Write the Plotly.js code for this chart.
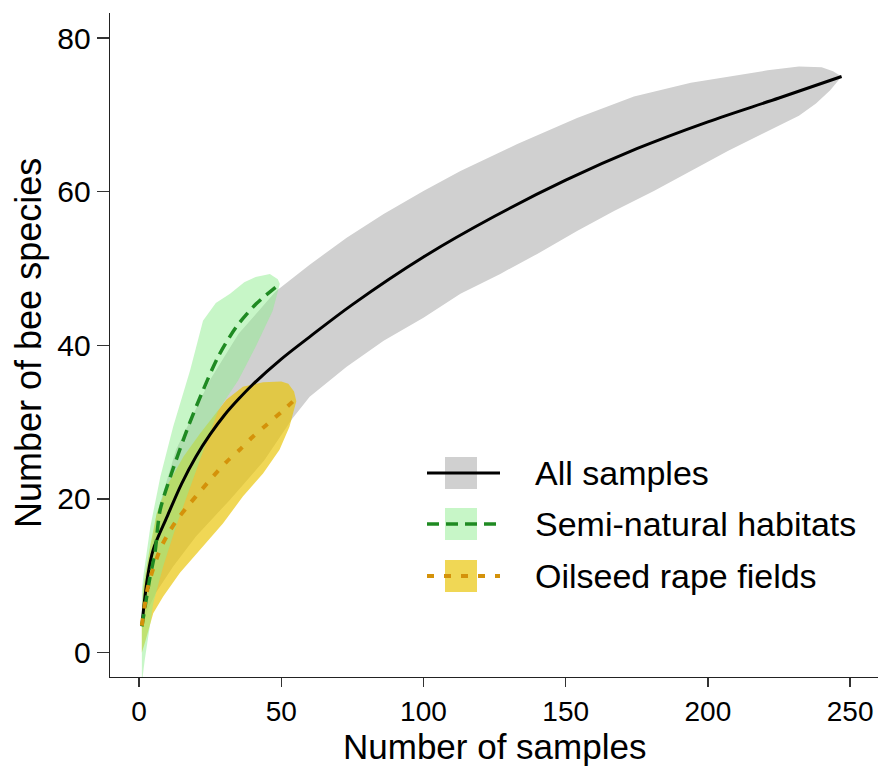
<!DOCTYPE html>
<html>
<head>
<meta charset="utf-8">
<script src="https://cdn.plot.ly/plotly-3.0.1.min.js"></script>
<style>html,body{margin:0;padding:0;background:#fff;}</style>
</head>
<body>
<div id="chart" style="width:878px;height:767px;"></div>
<script>
// ---- data ----
const seriesNames = ["All samples", "Semi-natural habitats", "Oilseed rape fields"];
const xTitle = "Number of samples";
const yTitle = "Number of bee species";

// All samples: mean curve and envelope
const allX = [1, 3, 5, 10, 15, 20, 25, 30, 35, 40, 50, 60, 75, 100, 125, 150, 175, 200, 225, 247];
const allY = [3.5, 9.8, 13.4, 17.8, 22.0, 25.5, 28.4, 30.9, 33.0, 34.9, 38.2, 41.1, 45.3, 51.5, 56.8, 61.5, 65.6, 69.1, 72.2, 75.0];
const allUpX = [1, 3, 6, 13, 25, 35, 48, 60, 73, 86, 100, 113, 133, 154, 174, 194, 210, 221, 232, 240, 244, 247];
const allUpY = [3.6, 9, 17.7, 26.4, 35.5, 41.5, 47, 50.5, 54, 57.1, 60.1, 62.7, 66.2, 69.6, 72.4, 74.2, 75.2, 75.8, 76.3, 76.2, 75.7, 75];
const allLoX = [1, 3, 6, 12, 20, 32, 44, 54, 60, 73, 86, 100, 113, 127, 140, 154, 167, 181, 194, 207, 221, 232, 238, 243, 247];
const allLoY = [3.4, 5.5, 7.8, 11.2, 15.1, 19.9, 25, 30.5, 33.3, 37.2, 40.6, 43.6, 46.7, 49.3, 51.9, 54.9, 57.5, 60.1, 62.7, 65.3, 67.9, 69.9, 71.5, 73.2, 75];

// Semi-natural habitats
const semiX = [1, 3.9, 5.6, 7.4, 11.4, 17.3, 22, 27.8, 34.2, 41.2, 49.5];
const semiY = [3.4, 9.9, 13, 18.5, 23.3, 29.4, 33.7, 38.5, 42.4, 45.4, 48];
const semiUpX = [1, 1.5, 4, 7.5, 12, 18, 22.5, 27, 32, 37, 41, 46, 48.8, 49.5];
const semiUpY = [8, 9.9, 16.4, 22.9, 29.4, 36.8, 43.2, 45.5, 46.7, 48.2, 48.9, 49.3, 48.6, 48];
const semiLoX = [1, 2, 5, 8.5, 13, 18, 24, 28, 35, 41, 47, 49.5];
const semiLoY = [-4, -1, 6.4, 11.2, 16.4, 21.6, 27.7, 31.6, 35.5, 39.8, 44.5, 48];

// Oilseed rape fields
const oilX = [1, 3.3, 7.4, 10.3, 13.8, 17.9, 22, 26, 30.7, 35.4, 40, 44.7, 50, 55];
const oilY = [3.5, 8.8, 13.4, 15.5, 17.5, 19.4, 21.2, 22.9, 24.8, 26.4, 28.1, 29.6, 31.3, 33];
const oilUpX = [1, 1.5, 3.9, 6.2, 9.7, 15.6, 21.4, 26, 30.7, 36.5, 43.6, 50, 52.5, 54.5, 55.3];
const oilUpY = [4.5, 8.6, 13.8, 18.1, 21.6, 25.5, 28.5, 30.7, 32.9, 34.6, 35.2, 35.3, 35, 34, 32.7];
const oilLoX = [1, 2.1, 5, 8.5, 14.4, 21.4, 29.5, 36.5, 43.6, 49.4, 52.9, 55.3];
const oilLoY = [0, 1.3, 5.1, 7.3, 10.4, 13.4, 16.8, 20.3, 23.3, 26.4, 29.4, 32.7];

const xTicks = [0, 50, 100, 150, 200, 250];
const yTicks = [0, 20, 40, 60, 80];

// ---- styles ----
const FONT = "Liberation Sans, Arial, Helvetica, sans-serif";
const greyFill = "rgb(208,208,208)";
const greenFill = "rgba(144,238,144,0.5)";
const yellowFill = "rgba(233,196,5,0.68)";
const blackLine = "#000000";
const greenLine = "#1f8a22";
const orangeLine = "#d4920a";

function band(upX, upY, loX, loY, color) {
  return {
    x: upX.concat(loX.slice().reverse()),
    y: upY.concat(loY.slice().reverse()),
    type: "scatter", mode: "lines", fill: "toself",
    fillcolor: color, line: {width: 0}, hoverinfo: "skip", showlegend: false
  };
}

const traces = [
  band(allUpX, allUpY, allLoX, allLoY, greyFill),
  band(oilUpX, oilUpY, oilLoX, oilLoY, yellowFill),
  band(semiUpX, semiUpY, semiLoX, semiLoY, greenFill),
  {x: allX, y: allY, type: "scatter", mode: "lines", name: seriesNames[0],
   line: {color: blackLine, width: 3, shape: "spline", smoothing: 1}, showlegend: false},
  {x: semiX, y: semiY, type: "scatter", mode: "lines", name: seriesNames[1],
   line: {color: greenLine, width: 3.5, dash: "12px,7px", shape: "spline", smoothing: 0.8}, showlegend: false},
  {x: oilX, y: oilY, type: "scatter", mode: "lines", name: seriesNames[2],
   line: {color: orangeLine, width: 4, dash: "7px,10px", shape: "spline", smoothing: 0.8}, showlegend: false}
];

// ---- custom legend and axis titles (paper coordinates) ----
const L = 110, R = 878, T = 13, B = 677;
const px = v => (v - L) / (R - L);
const py = v => (B - v) / (B - T);
const legendRows = [
  {y: 473, fill: greyFill, line: blackLine, width: 3, dash: "solid"},
  {y: 524, fill: greenFill, line: greenLine, width: 3.5, dash: "12px,7px"},
  {y: 576, fill: yellowFill, line: orangeLine, width: 4, dash: "7px,10px"}
];
const shapes = [];
const annotations = [];
legendRows.forEach((r, i) => {
  shapes.push({type: "rect", xref: "paper", yref: "paper",
    x0: px(445), x1: px(477), y0: py(r.y - 16), y1: py(r.y + 16),
    fillcolor: r.fill, line: {width: 0}, layer: "above"});
  shapes.push({type: "line", xref: "paper", yref: "paper",
    x0: px(427), x1: px(500), y0: py(r.y), y1: py(r.y),
    line: {color: r.line, width: r.width, dash: r.dash}, layer: "above"});
  annotations.push({xref: "paper", yref: "paper", x: px(533), y: py(r.y),
    xanchor: "left", yanchor: "middle", showarrow: false,
    text: seriesNames[i], font: {family: FONT, size: 34, color: "#000"}});
});
annotations.push({xref: "paper", yref: "paper", x: px(494), y: py(767),
  xanchor: "center", yanchor: "bottom", showarrow: false, borderpad: 0,
  text: xTitle, font: {family: FONT, size: 35, color: "#000"}});
annotations.push({xref: "paper", yref: "paper", x: px(28), y: py(343),
  xanchor: "center", yanchor: "middle", showarrow: false, textangle: -90,
  text: yTitle, font: {family: FONT, size: 36, color: "#000"}});

const layout = {
  width: 878, height: 767,
  margin: {l: L, r: 878 - R, t: T, b: 767 - B, pad: 0},
  paper_bgcolor: "#fff", plot_bgcolor: "#fff",
  showlegend: false,
  font: {family: FONT, color: "#000"},
  xaxis: {
    range: [-10.2, 259.8], tickmode: "array", tickvals: xTicks,
    ticks: "outside", ticklen: 9, tickwidth: 1.3, tickcolor: "#333",
    showline: true, linecolor: "#222", linewidth: 1.4,
    showgrid: false, zeroline: false,
    tickfont: {family: FONT, size: 28, color: "#000"}
  },
  yaxis: {
    range: [-3.19, 83.27], tickmode: "array", tickvals: yTicks,
    ticks: "outside", ticklen: 12, tickwidth: 1.3, tickcolor: "#333",
    showline: true, linecolor: "#222", linewidth: 1.4,
    showgrid: false, zeroline: false,
    tickfont: {family: FONT, size: 30, color: "#000"}
  },
  shapes: shapes,
  annotations: annotations
};

Plotly.newPlot("chart", traces, layout, {displayModeBar: false, staticPlot: true});
</script>
</body>
</html>
